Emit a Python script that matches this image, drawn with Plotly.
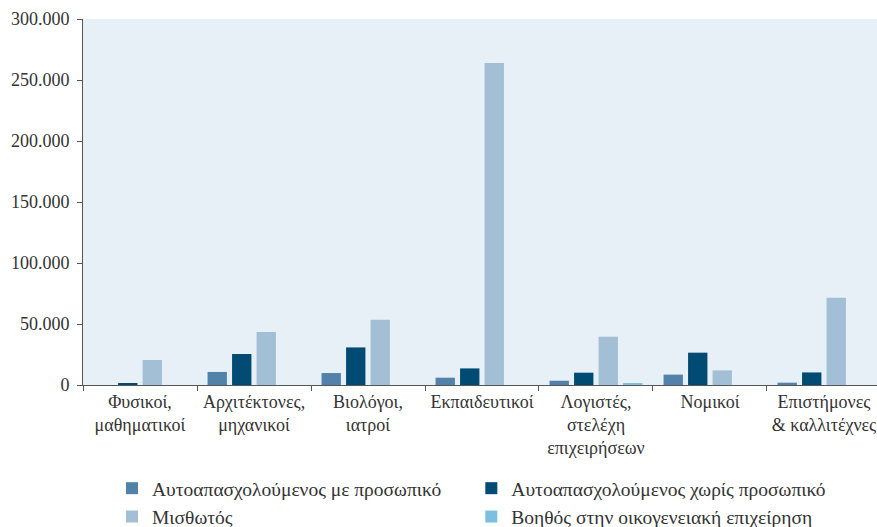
import plotly.graph_objects as go

categories = ["Φυσικοί,<br>μαθηματικοί", "Αρχιτέκτονες,<br>μηχανικοί", "Βιολόγοι,<br>ιατροί",
              "Εκπαιδευτικοί", "Λογιστές,<br>στελέχη<br>επιχειρήσεων", "Νομικοί",
              "Επιστήμονες<br>& καλλιτέχνες"]
series_names = ["Αυτοαπασχολούμενος με προσωπικό", "Αυτοαπασχολούμενος χωρίς προσωπικό",
                "Μισθωτός", "Βοηθός στην οικογενειακή επιχείρηση"]
self_with_staff = [0, 10700, 9800, 6000, 3500, 8500, 1900]
self_no_staff = [1600, 25400, 30800, 13600, 10100, 26500, 10300]
employees = [20500, 43400, 53500, 264000, 39600, 12000, 71500]
family_helper = [0, 0, 0, 0, 1000, 0, 0]
colors = ["#5282A9", "#004B74", "#A3BFD6", "#7CC0E0"]

fig = go.Figure()
for name, vals, c in zip(series_names, [self_with_staff, self_no_staff, employees, family_helper], colors):
    fig.add_trace(go.Bar(x=categories, y=vals, name=name, marker=dict(color=c, line=dict(width=0))))

font = "Liberation Serif"
fig.update_layout(
    width=877, height=527, autosize=False,
    margin=dict(l=83, r=0, t=19, b=142),
    plot_bgcolor="#E8F0F7", paper_bgcolor="white",
    barmode="group", bargap=0.14, bargroupgap=0.21,
    separators=",.",
    font=dict(family=font, size=18, color="#333333"),
    showlegend=True,
    legend=dict(orientation="h", xref="container", yref="container",
                x=112/877, y=1 - 469/527, xanchor="left", yanchor="top",
                font=dict(family=font, size=19.5, color="#333333"),
                traceorder="normal", tracegroupgap=0, itemwidth=30,
                bgcolor="rgba(0,0,0,0)"),
    xaxis=dict(range=[-0.5, 6.465], showline=True, linecolor="#555555", linewidth=1,
               ticks="outside", tickson="boundaries", ticklen=5, tickcolor="#555555",
               showgrid=False, tickfont=dict(size=18)),
    yaxis=dict(range=[0, 300000], showline=True, linecolor="#555555", linewidth=1,
               ticks="outside", ticklen=5, tickcolor="#555555", showgrid=False,
               zeroline=False, tickvals=[0, 50000, 100000, 150000, 200000, 250000, 300000],
               tickformat=",d", tickfont=dict(size=18), ticklabelstandoff=4),
)
fig.write_html("out.html", post_script="document.body.style.margin='0';",
               config={"displayModeBar": False})
